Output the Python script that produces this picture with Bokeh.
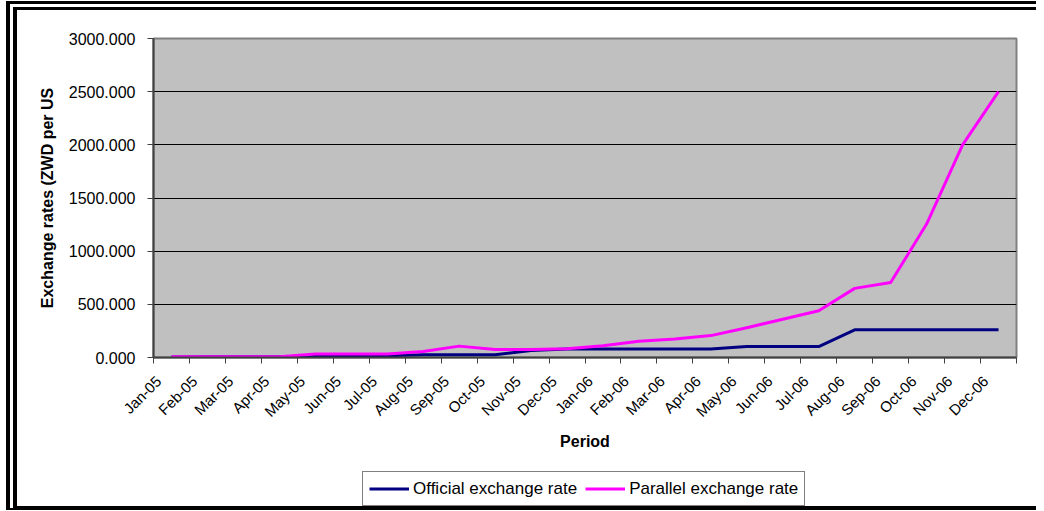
import math
from bokeh.plotting import figure
from bokeh.layouts import column
from bokeh.models import (FixedTicker, PrintfTickFormatter, Legend, LegendItem,
                          Range1d)
from bokeh.embed import file_html
from bokeh.resources import INLINE

months = ["Jan-05", "Feb-05", "Mar-05", "Apr-05", "May-05", "Jun-05", "Jul-05",
          "Aug-05", "Sep-05", "Oct-05", "Nov-05", "Dec-05", "Jan-06", "Feb-06",
          "Mar-06", "Apr-06", "May-06", "Jun-06", "Jul-06", "Aug-06", "Sep-06",
          "Oct-06", "Nov-06", "Dec-06"]
official = [5.7, 6, 6, 6, 9, 10, 17, 25, 26, 26, 65, 80,
            80, 80, 80, 80, 103, 103, 103, 260, 260, 260, 260, 260]
parallel = [6, 6, 6, 7, 32, 33, 34, 57, 107, 76, 76, 82,
            110, 152, 175, 206, 280, 360, 440, 650, 705, 1255, 2000, 2500]
y_ticks = [0, 500, 1000, 1500, 2000, 2500, 3000]
series_names = ["Official exchange rate", "Parallel exchange rate"]
series_colors = ["#000080", "#FF00FF"]

FONT = "Liberation Sans"
W = 1019

n = len(months)
x = [i + 0.5 for i in range(n)]            # category centres
label_pos = [i + 0.14 for i in range(n)]   # where the rotated labels end

p = figure(width=W, height=455, x_range=Range1d(0, n),
           y_range=Range1d(0, 3000), output_backend="svg", toolbar_location=None,
           min_border_left=136, min_border_right=20, min_border_top=28,
           min_border_bottom=108, background_fill_color="#C0C0C0",
           border_fill_color="white")
p.outline_line_color = "#808080"
p.outline_line_width = 2

p.xgrid.visible = False
p.ygrid.grid_line_color = "black"
p.ygrid.grid_line_width = 1

# y axis
p.yaxis.ticker = FixedTicker(ticks=y_ticks)
p.yaxis.formatter = PrintfTickFormatter(format="%.3f")
p.yaxis.axis_label = "Exchange rates (ZWD per US"
p.yaxis.axis_label_text_font = FONT
p.yaxis.axis_label_text_font_style = "bold"
p.yaxis.axis_label_text_font_size = "16px"
p.yaxis.axis_label_text_color = "black"
p.yaxis.axis_label_standoff = 10
p.yaxis.major_label_text_font = FONT
p.yaxis.major_label_text_font_size = "16px"
p.yaxis.major_label_text_color = "black"
p.yaxis.major_label_standoff = 12
p.yaxis.major_tick_in = 0
p.yaxis.major_tick_out = 6
p.yaxis.minor_tick_line_color = None
p.yaxis.axis_line_color = "#404040"
p.yaxis.axis_line_width = 2
p.yaxis.major_tick_line_color = "#404040"

# x axis: tick marks between categories, labels ending near each category
p.xaxis.ticker = FixedTicker(ticks=label_pos, minor_ticks=list(range(n + 1)))
p.xaxis.major_label_overrides = {xi: m for xi, m in zip(label_pos, months)}
p.xaxis.major_tick_line_color = None
p.xaxis.minor_tick_line_color = "#404040"
p.xaxis.minor_tick_in = 0
p.xaxis.minor_tick_out = 6
p.xaxis.major_label_orientation = math.pi / 4
p.xaxis.major_label_text_font = FONT
p.xaxis.major_label_text_font_size = "15px"
p.xaxis.major_label_text_color = "black"
p.xaxis.major_label_standoff = 15
p.xaxis.axis_label = "Period"
p.xaxis.axis_label_text_font = FONT
p.xaxis.axis_label_text_font_style = "bold"
p.xaxis.axis_label_text_font_size = "16px"
p.xaxis.axis_label_text_color = "black"
p.xaxis.axis_label_standoff = 4
p.xaxis.axis_line_color = "#404040"
p.xaxis.axis_line_width = 2

p.line(x, official, line_color=series_colors[0], line_width=3, line_join="round")
p.line(x, parallel, line_color=series_colors[1], line_width=3, line_join="round")

# legend strip below the chart
lf = figure(width=W, height=41, x_range=Range1d(0, 1), y_range=Range1d(0, 1),
            output_backend="svg", toolbar_location=None, min_border=0,
            x_axis_location=None, y_axis_location=None,
            border_fill_color="white", background_fill_color="white")
lf.grid.visible = False
lf.outline_line_color = None
items = []
for name, col in zip(series_names, series_colors):
    # sample lines kept outside the visible range: only their legend swatch shows
    rr = lf.line([-3, -2], [-3, -3], line_color=col, line_width=3)
    items.append(LegendItem(label=name, renderers=[rr]))
legend = Legend(items=items, orientation="horizontal", location=(209, 0),
                border_line_color="black", border_line_width=1,
                background_fill_color="white", background_fill_alpha=1,
                glyph_width=40, glyph_height=21, label_height=21,
                label_text_font=FONT, label_text_font_size="17px",
                label_text_color="black", padding=6, spacing=8,
                label_standoff=4, margin=0)
lf.add_layout(legend, "center")

layout = column(p, lf, spacing=0,
                styles={"margin-left": "6px", "margin-top": "1px",
                        "border-left": "11px double black",
                        "border-top": "9px double black",
                        "border-bottom": "4px solid black"})

open("out.html", "w").write(file_html(layout, INLINE))
